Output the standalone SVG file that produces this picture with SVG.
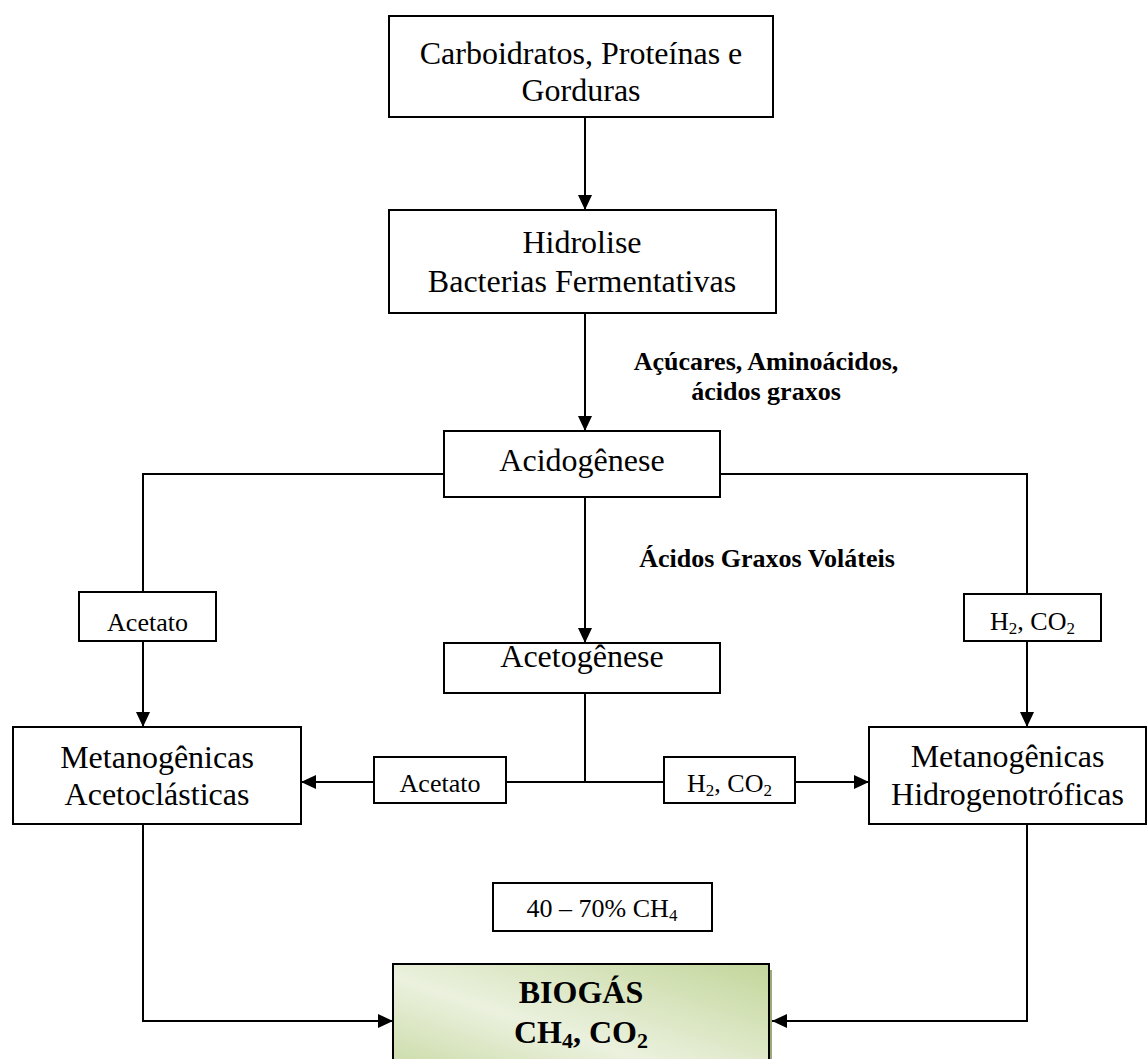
<svg xmlns="http://www.w3.org/2000/svg" width="1147" height="1059" viewBox="0 0 1147 1059">
<style>
.box{fill:#fff;stroke:#000;stroke-width:2}
.t{font-family:"Liberation Serif","Times New Roman",serif;fill:#000;text-anchor:middle}
.big{font-size:32px}
.sm{font-size:26px}
.b{font-weight:bold}
.ln{fill:none;stroke:#000;stroke-width:2}
</style>
<defs>
<marker id="arr" markerUnits="userSpaceOnUse" viewBox="0 0 15 14" refX="15" refY="7" markerWidth="15" markerHeight="14" orient="auto">
<path d="M0,0 L15,7 L0,14 Z" fill="#000"/>
</marker>
<linearGradient id="green" x1="0" y1="1" x2="1" y2="0">
<stop offset="0" stop-color="#c3d69b"/>
<stop offset="0.45" stop-color="#ebf1de"/>
<stop offset="1" stop-color="#c3d69b"/>
</linearGradient>
</defs>
<rect width="1147" height="1059" fill="#fff"/>
<g id="connectors">
<path class="ln" d="M585,117 V210" marker-end="url(#arr)"/>
<path class="ln" d="M585,313 V431" marker-end="url(#arr)"/>
<path class="ln" d="M444,474 H143 V592"/>
<path class="ln" d="M143,641 V727" marker-end="url(#arr)"/>
<path class="ln" d="M720,474 H1027 V594"/>
<path class="ln" d="M1027,641 V727" marker-end="url(#arr)"/>
<path class="ln" d="M585,497 V643" marker-end="url(#arr)"/>
<path class="ln" d="M585,693 V782 M506,782 H664"/>
<path class="ln" d="M374,782 H301" marker-end="url(#arr)"/>
<path class="ln" d="M795,782 H869" marker-end="url(#arr)"/>
<path class="ln" d="M143,824 V1021 H393" marker-end="url(#arr)"/>
<path class="ln" d="M1027,824 V1021 H772" marker-end="url(#arr)"/>
</g>
<g id="label-acucares">
<text class="t sm b" x="766" y="370">Açúcares, Aminoácidos,</text>
<text class="t sm b" x="766" y="400">ácidos graxos</text>
</g>
<g id="label-agv">
<text class="t sm b" x="767" y="567">Ácidos Graxos Voláteis</text>
</g>
<g id="node-substrato">
<rect class="box" x="389" y="16" width="384" height="101"/>
<text class="t big" x="581" y="64">Carboidratos, Proteínas e</text>
<text class="t big" x="581" y="101">Gorduras</text>
</g>
<g id="node-hidrolise">
<rect class="box" x="389" y="210" width="387" height="103"/>
<text class="t big" x="582" y="253">Hidrolise</text>
<text class="t big" x="582" y="292">Bacterias Fermentativas</text>
</g>
<g id="node-acidogenese">
<rect class="box" x="444" y="431" width="276" height="66"/>
<text class="t big" x="582" y="471">Acidogênese</text>
</g>
<g id="node-acetato1">
<rect class="box" x="79" y="592" width="137" height="49"/>
<text class="t sm" x="147.5" y="631">Acetato</text>
</g>
<g id="node-h2co2-1">
<rect class="box" x="964" y="594" width="137" height="47"/>
<text class="t sm" x="1032.5" y="630">H<tspan font-size="17" dy="4">2</tspan><tspan dy="-4">, CO</tspan><tspan font-size="17" dy="4">2</tspan></text>
</g>
<g id="node-acetogenese">
<rect class="box" x="444" y="643" width="276" height="50"/>
<text class="t big" x="582" y="667">Acetogênese</text>
</g>
<g id="node-acetato2">
<rect class="box" x="374" y="757" width="132" height="46"/>
<text class="t sm" x="440" y="792">Acetato</text>
</g>
<g id="node-h2co2-2">
<rect class="box" x="664" y="757" width="131" height="46"/>
<text class="t sm" x="729.5" y="792">H<tspan font-size="17" dy="4">2</tspan><tspan dy="-4">, CO</tspan><tspan font-size="17" dy="4">2</tspan></text>
</g>
<g id="node-metano-aceto">
<rect class="box" x="13" y="727" width="288" height="97"/>
<text class="t big" x="157" y="768">Metanogênicas</text>
<text class="t big" x="157" y="805">Acetoclásticas</text>
</g>
<g id="node-metano-hidro">
<rect class="box" x="869" y="727" width="277" height="97"/>
<text class="t big" x="1007.5" y="767">Metanogênicas</text>
<text class="t big" x="1007.5" y="805">Hidrogenotróficas</text>
</g>
<g id="node-ch4">
<rect class="box" x="493" y="883" width="219" height="48"/>
<text class="t sm" x="602" y="917">40 – 70% CH<tspan font-size="17" dy="4">4</tspan></text>
</g>
<g id="node-biogas">
<rect x="396" y="970" width="376" height="126" fill="#9bab78"/>
<rect x="393" y="964" width="376" height="126" fill="url(#green)" stroke="#000" stroke-width="2"/>
<text class="t big b" x="581" y="1003">BIOGÁS</text>
<text class="t big b" x="581" y="1043">CH<tspan font-size="22" dy="5">4</tspan><tspan dy="-5">, CO</tspan><tspan font-size="22" dy="5">2</tspan></text>
</g>
</svg>
